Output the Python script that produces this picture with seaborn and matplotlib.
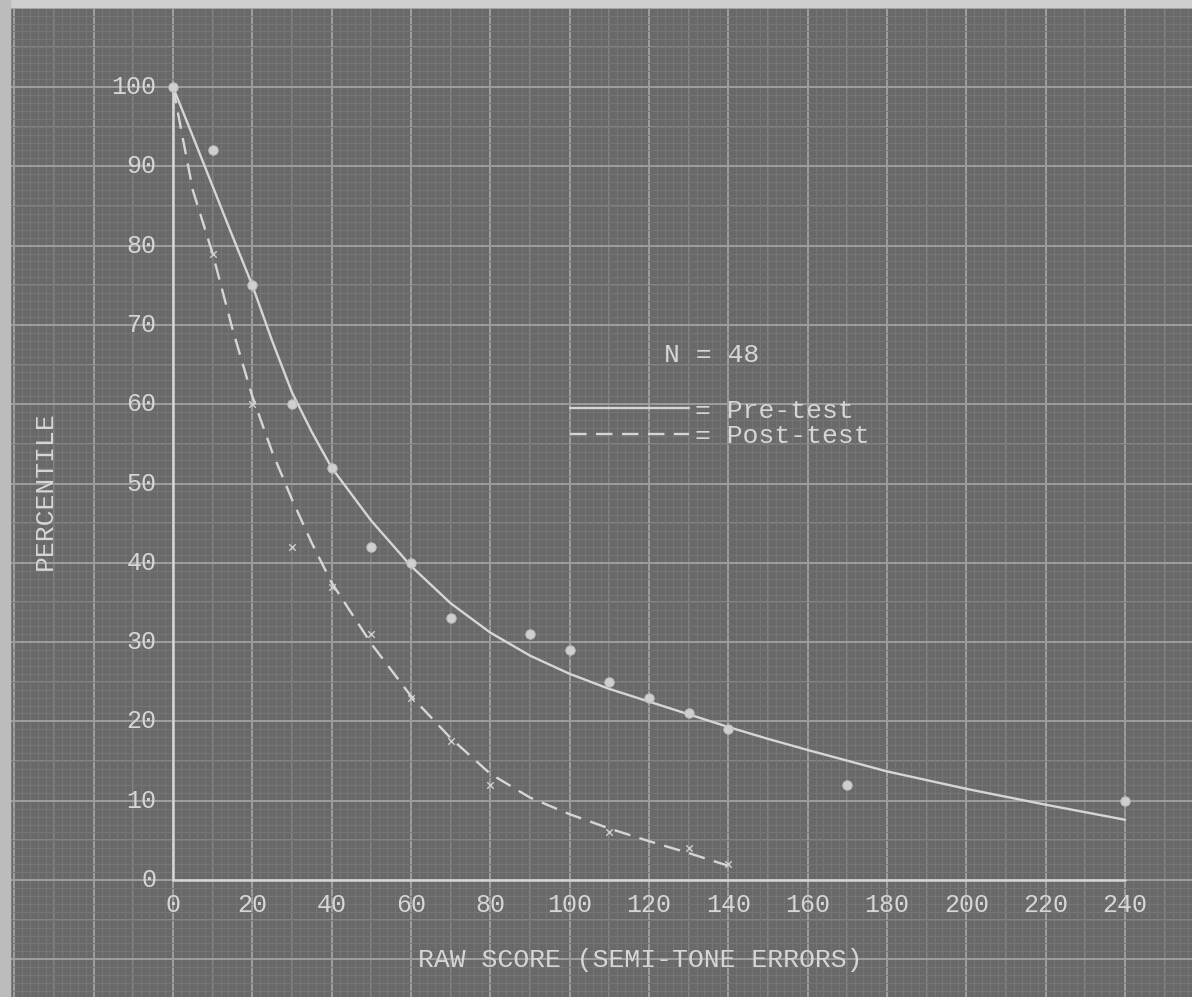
import numpy as np
import pandas as pd
import matplotlib.pyplot as plt
from matplotlib.ticker import MultipleLocator
import seaborn as sns

# Raw scores (semi-tone errors) and percentiles
pre_x = [0, 10, 20, 30, 40, 50, 60, 70, 90, 100, 110, 120, 130, 140, 170, 240]
pre_y = [100, 92, 75, 60, 52, 42, 40, 33, 31, 29, 25, 23, 21, 19, 12, 10]
post_x = [10, 20, 30, 40, 50, 60, 70, 80, 110, 130, 140]
post_y = [79, 60, 42, 37, 31, 23, 17.5, 12, 6, 4, 2]

# Hand-drawn fitted curves
pre_curve_x = [0, 5, 10, 15, 20, 25, 30, 35, 40, 50, 60, 70, 80, 90, 100, 110, 120,
               130, 140, 150, 160, 180, 200, 220, 240]
pre_curve_y = [100, 93.8, 87.5, 81.2, 75, 68, 61.5, 56.5, 52, 45.3, 39.6, 34.9, 31.2,
               28.3, 26.0, 24.1, 22.5, 20.9, 19.3, 17.8, 16.4, 13.7, 11.5, 9.5, 7.6]
post_curve_x = [0, 5, 10, 15, 20, 25, 30, 35, 40, 50, 60, 70, 80, 90, 100, 110, 120, 130, 140]
post_curve_y = [100, 87, 79, 69.5, 61, 54, 48, 42.5, 37.5, 29.8, 23.2, 17.9, 13.4, 10.4,
                8.3, 6.5, 4.9, 3.4, 1.8]

x_ticks = [0, 20, 40, 60, 80, 100, 120, 140, 160, 180, 200, 220, 240]
y_ticks = [0, 10, 20, 30, 40, 50, 60, 70, 80, 90, 100]

paper = '#696969'
chalk = '#d6d6d6'
mono = ['Liberation Mono', 'DejaVu Sans Mono']

sns.set_style('dark')
plt.rcParams['font.family'] = mono

fig = plt.figure(figsize=(11.92, 9.97), dpi=100)
fig.patch.set_facecolor(paper)
ax = fig.add_axes([0, 0, 1, 1])
ax.set_facecolor(paper)

# axes span the whole sheet of graph paper
ax.set_xlim(-43.6, 256.9)
ax.set_ylim(-14.75, 110.97)

# graph paper rulings
ax.xaxis.set_major_locator(MultipleLocator(20))
ax.yaxis.set_major_locator(MultipleLocator(10))
ax.xaxis.set_minor_locator(MultipleLocator(2))
ax.yaxis.set_minor_locator(MultipleLocator(1))
ax.grid(which='minor', color='#767676', lw=0.7)
ax.grid(which='major', color='#9e9e9e', lw=1.4)
ax.vlines(np.arange(-30, 260, 20), -20, 120, color='#8a8a8a', lw=1.1, zorder=0.5)
ax.hlines(np.arange(-15, 115, 10), -50, 260, color='#8a8a8a', lw=1.1, zorder=0.5)
ax.tick_params(which='both', length=0, labelbottom=False, labelleft=False)
for s in ax.spines.values():
    s.set_visible(False)

# axis lines
ax.plot([x_ticks[0], x_ticks[-1]], [0, 0], color=chalk, lw=1.8, zorder=2)
ax.plot([0, 0], [y_ticks[0], y_ticks[-1]], color=chalk, lw=1.8, zorder=2)

for t in x_ticks:
    ax.text(t, -3.2, str(t), ha='center', va='center', color=chalk, fontsize=18)
for t in y_ticks:
    ax.text(-4.2, t, str(t), ha='right', va='center', color=chalk, fontsize=18)

# curves
pre_curve = pd.DataFrame({'x': pre_curve_x, 'y': pre_curve_y})
post_curve = pd.DataFrame({'x': post_curve_x, 'y': post_curve_y})
sns.lineplot(data=pre_curve, x='x', y='y', ax=ax, color=chalk, lw=1.7, sort=False, zorder=3)
sns.lineplot(data=post_curve, x='x', y='y', ax=ax, color=chalk, lw=1.7, sort=False,
             dashes=False, zorder=3).lines[-1].set_dashes([7, 4])

# observed points
sns.scatterplot(x=pre_x, y=pre_y, ax=ax, color='#cfcfcf', s=45, edgecolor='#bdbdbd', lw=0.8, zorder=4)
sns.scatterplot(x=post_x, y=post_y, ax=ax, color='#cfcfcf', marker='x', s=22, lw=1.0, zorder=4)

# legend drawn like the typed key
ax.text(0.597, 0.644, 'N = 48', transform=ax.transAxes, ha='center', va='center',
        color=chalk, fontsize=19)
ax.plot([0.478, 0.578], [0.591, 0.591], transform=ax.transAxes, color=chalk, lw=1.7)
ax.plot([0.478, 0.578], [0.565, 0.565], transform=ax.transAxes, color=chalk, lw=1.7,
        dashes=[7, 4])
ax.text(0.583, 0.588, '= Pre-test', transform=ax.transAxes, ha='left', va='center',
        color=chalk, fontsize=19)
ax.text(0.583, 0.563, '= Post-test', transform=ax.transAxes, ha='left', va='center',
        color=chalk, fontsize=19)

ax.set_xlabel('')
ax.set_ylabel('')
ax.text(0.537, 0.037, 'RAW SCORE (SEMI-TONE ERRORS)', transform=ax.transAxes,
        ha='center', va='center', color=chalk, fontsize=19)
ax.text(0.038, 0.508, 'PERCENTILE', transform=ax.transAxes, rotation=90,
        ha='center', va='center', color=chalk, fontsize=19)

# scanned page edge at top and left
fig.patches.append(plt.Rectangle((0, 0.993), 1, 0.007, transform=fig.transFigure,
                                 color='#cfcfcf', zorder=10))
fig.patches.append(plt.Rectangle((0, 0), 0.008, 1, transform=fig.transFigure,
                                 color='#bcbcbc', zorder=10))

fig.savefig('out.png', dpi=100, facecolor=paper)
